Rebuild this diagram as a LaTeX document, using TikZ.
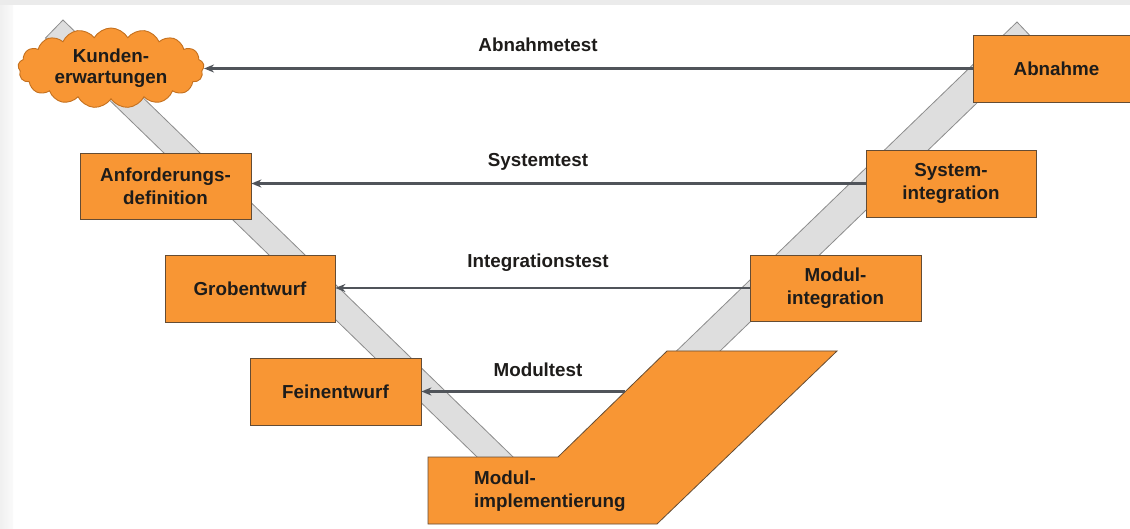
\documentclass[tikz,border=0pt]{standalone}
\usepackage{fontspec}
\setmainfont{Liberation Sans}
\usetikzlibrary{shapes.symbols,arrows.meta}
\definecolor{vorange}{RGB}{248,150,52}
\definecolor{vedge}{RGB}{100,76,52}
\definecolor{cloudedge}{RGB}{196,112,30}
\definecolor{vtext}{RGB}{30,28,26}
\definecolor{varrow}{RGB}{80,84,90}
\definecolor{stripfill}{RGB}{222,222,222}
\definecolor{stripedge}{RGB}{140,140,140}
\tikzset{
  vbox/.style={draw=vedge, line width=0.8pt, fill=vorange, rectangle,
    minimum width=171pt, minimum height=67pt, inner sep=0pt,
    font=\bfseries\fontsize{18.8}{23}\selectfont, text=vtext, align=center},
  vcloud/.style={draw=cloudedge, line width=0.9pt, fill=vorange, cloud,
    cloud puffs=17, cloud puff arc=120, cloud ignores aspect,
    minimum width=186pt, minimum height=80pt, inner sep=0pt,
    font=\bfseries\fontsize{18.8}{21}\selectfont, text=vtext, align=center},
  vlabel/.style={font=\bfseries\fontsize{18.8}{23}\selectfont, text=vtext, inner sep=0pt},
  varr/.style={draw=varrow, line width=2.4pt, -{Stealth[length=10pt,width=8pt]}},
  vstrip/.style={fill=stripfill, draw=stripedge, line width=0.8pt},
}
\begin{document}
\begin{tikzpicture}[x=1pt,y=-1pt]
\useasboundingbox (0,0) rectangle (1130,529);
\clip (0,0) rectangle (1130,529);
\fill[white] (0,0) rectangle (1130,529);
\shade[left color=black!6, right color=black!2] (0,0) rectangle (13,529);
\fill[black!8] (0,0) rectangle (1130,5);

% gray strips of the V
\path[vstrip] (63,20) -- (578,520) -- (542,520) -- (45.5,38) -- cycle;
\path[vstrip] (1017,22) -- (1038,44) -- (545,520) -- (501.6,520) -- cycle;

% nodes
\node[vcloud] (kunden) at (111,68) {Kunden-\\erwartungen};
\node[vbox, minimum width=167pt] (abnahme) at (1056.5,68.5) {Abnahme};
\node[vbox, minimum width=170pt] (sysint) at (951,183.5) {System-\\integration};
\node[vbox, minimum height=66pt] (anf) at (165.5,186) {Anforderungs-\\definition};
\node[vbox, minimum width=170pt] (grob) at (250,288.5) {Grobentwurf};
\node[vbox, minimum height=66pt] (modint) at (835.5,288) {Modul-\\integration};
\node[vbox] (fein) at (335.5,391.5) {Feinentwurf};

% Modul-implementierung parallelogram
\draw[draw=vedge, line width=0.8pt, fill=vorange]
  (428,457) -- (558,457) -- (667,351) -- (837,351) -- (657,524) -- (428,524) -- cycle;
\node[font=\bfseries\fontsize{18.8}{23}\selectfont, text=vtext, align=left, anchor=west, inner sep=0pt]
  (modimpl) at (474,491) {Modul-\\implementierung};
\coordinate (modimpledge) at (625,391.5);

% connectors
\draw[varr] (abnahme.west) -- (abnahme.west -| kunden.east);
\draw[varr] (sysint.west) -- (sysint.west -| anf.east);
\draw[varr] (modint.west) -- (modint.west -| grob.east);
\draw[varr] (modimpledge) -- (fein.east);

% labels
\node[vlabel] (labAbn) at (538,45) {Abnahmetest};
\node[vlabel] (labSys) at (538,162) {Systemtest};
\node[vlabel] (labInt) at (538,263) {Integrationstest};
\node[vlabel] (labMod) at (538,370) {Modultest};
\end{tikzpicture}
\end{document}
